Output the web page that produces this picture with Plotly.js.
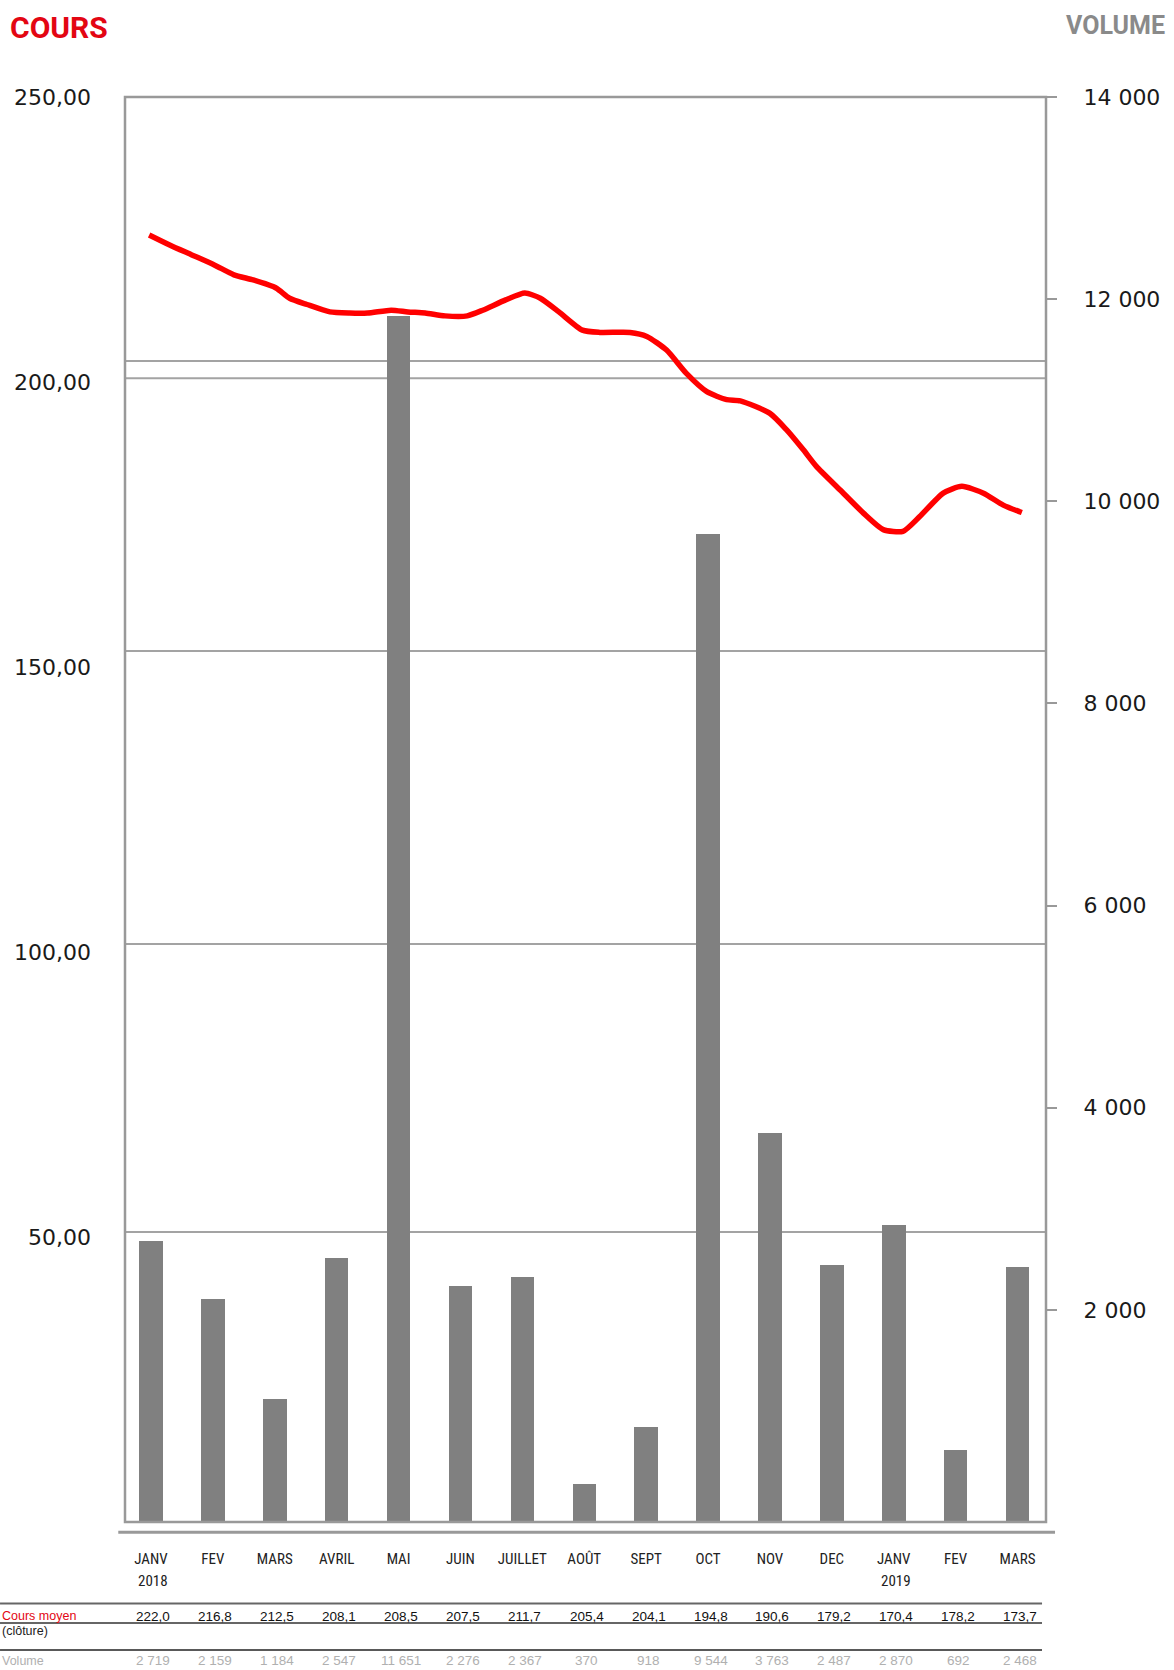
<!DOCTYPE html>
<html>
<head>
<meta charset="utf-8">
<script src="https://cdn.plot.ly/plotly-3.0.1.min.js"></script>
<style>
  html, body { margin: 0; padding: 0; background: #fff; }
  #chart { width: 1174px; height: 1670px; }
</style>
</head>
<body>
<div id="chart"></div>
<script>
// ---- Data ----
const months = ['JANV','FEV','MARS','AVRIL','MAI','JUIN','JUILLET','AOÛT','SEPT','OCT','NOV','DEC','JANV','FEV','MARS'];
const years = ['2018','2019'];
const yearPos = [0, 12];
const coursMoyen = [222.0,216.8,212.5,208.1,208.5,207.5,211.7,205.4,204.1,194.8,190.6,179.2,170.4,178.2,173.7];
const volumes = [2719,2159,1184,2547,11651,2276,2367,370,918,9544,3763,2487,2870,692,2468];
// daily closing price curve (x in month index)
const lineX = [-0.03,0.31,0.66,1.03,1.34,1.65,2.02,2.24,2.52,2.89,3.21,3.50,3.88,4.15,4.43,4.75,5.11,5.36,5.73,6.04,6.29,6.59,6.97,7.25,7.74,8.01,8.33,8.65,8.98,9.30,9.52,10.0,10.27,10.54,10.75,11.13,11.51,11.83,12.15,12.42,12.80,13.10,13.45,13.77,14.07];
const lineY = [225.8,224.0,222.3,220.5,218.8,217.9,216.5,214.7,213.6,212.3,212.1,212.1,212.6,212.3,212.1,211.6,211.6,212.6,214.4,215.6,214.7,212.3,209.1,208.7,208.7,208.0,205.6,201.5,198.3,196.9,196.7,194.5,191.6,188.1,185.2,181.1,177.0,174.1,173.8,176.4,180.5,181.7,180.5,178.4,177.1];
const leftTicks = [50,100,150,200,250];
const rightTicks = [2000,4000,6000,8000,10000,12000,14000];
const rowLabels = ['Cours moyen','(clôture)','Volume'];

// ---- helpers ----
const idx = months.map((m,i)=>i);
const fmtCours = v => v.toFixed(1).replace('.', ',');
const fmtVol = v => String(v).replace(/\B(?=(\d{3})+(?!\d))/g, ' ');

const GRID = '#a3a3a3';
const FRAME = '#999999';
const TICKFONT = {family: 'DejaVu Sans, Open Sans, sans-serif', size: 22, color: '#1a1a1a'};
const TABFONT = 'Liberation Sans, Arial, sans-serif';
const MONTHFONT = 'Roboto Condensed, Liberation Sans Narrow, Roboto, sans-serif';
const XR = [-0.42, 14.46];

const traces = [
  {type: 'bar', x: idx, y: volumes, xaxis: 'x', yaxis: 'y', width: 0.38,
   marker: {color: '#808080', line: {width: 0}}, hoverinfo: 'skip', showlegend: false},
  {type: 'scatter', mode: 'lines', x: lineX, y: lineY, xaxis: 'x', yaxis: 'y2',
   line: {color: '#ff0000', width: 5.5, shape: 'spline', smoothing: 0.6}, hoverinfo: 'skip', showlegend: false},
  {type: 'scatter', mode: 'markers', x: idx, y: volumes, xaxis: 'x', yaxis: 'y3',
   marker: {opacity: 0, size: 1}, hoverinfo: 'skip', showlegend: false}
];

const shapes = [];
// gridlines
[0.8147, 0.8026, 0.6112, 0.4056, 0.2035].forEach(p => shapes.push({
  type: 'line', xref: 'paper', yref: 'paper', x0: 0, x1: 1, y0: p, y1: p,
  line: {color: GRID, width: 2}, layer: 'below'}));
// frame
shapes.push({type: 'rect', xref: 'paper', yref: 'paper', x0: 0, x1: 1, y0: 0, y1: 1,
  line: {color: FRAME, width: 2.5}, layer: 'above'});
// thick line under plot
shapes.push({type: 'line', xref: 'paper', yref: 'paper', x0: -0.0073, x1: 1.0098, y0: -0.0072, y1: -0.0072,
  line: {color: FRAME, width: 3}});
// table lines
shapes.push({type: 'line', xref: 'paper', yref: 'paper', x0: -0.1357, x1: 0.9957, y0: -0.0572, y1: -0.0572,
  line: {color: '#666666', width: 2}});
shapes.push({type: 'line', xref: 'paper', yref: 'paper', x0: -0.1357, x1: 0.9957, y0: -0.0709, y1: -0.0709,
  line: {color: '#333333', width: 1.5}});
shapes.push({type: 'line', xref: 'paper', yref: 'paper', x0: -0.1357, x1: 0.9957, y0: -0.0898, y1: -0.0898,
  line: {color: '#222222', width: 1.5}});

const annotations = [];
annotations.push({xref: 'paper', yref: 'paper', x: 1.1315, y: 1.0505, xanchor: 'right', yanchor: 'middle',
  text: '<b>VOLUME</b>', showarrow: false, font: {family: 'Roboto, sans-serif', size: 25, color: '#8a8a8a'}});
years.forEach((yr, k) => annotations.push({xref: 'x', yref: 'paper', x: yearPos[k] + 0.03, y: -0.0411,
  xanchor: 'center', yanchor: 'middle', text: yr, showarrow: false,
  font: {family: MONTHFONT, size: 15, color: '#222'}}));
// table rows
annotations.push({xref: 'paper', yref: 'paper', x: -0.1357, y: -0.066, xanchor: 'left', yanchor: 'middle',
  text: rowLabels[0], showarrow: false, font: {family: TABFONT, size: 12.5, color: '#e30613'}});
annotations.push({xref: 'paper', yref: 'paper', x: -0.1357, y: -0.0765, xanchor: 'left', yanchor: 'middle',
  text: rowLabels[1], showarrow: false, font: {family: TABFONT, size: 12.5, color: '#222'}});
annotations.push({xref: 'paper', yref: 'paper', x: -0.1357, y: -0.0975, xanchor: 'left', yanchor: 'middle',
  text: rowLabels[2], showarrow: false, font: {family: TABFONT, size: 12.5, color: '#b0b0b0'}});
coursMoyen.forEach((v, i) => annotations.push({xref: 'x', yref: 'paper', x: i + 0.04, y: -0.066,
  xanchor: 'center', yanchor: 'middle', text: fmtCours(v), showarrow: false,
  font: {family: TABFONT, size: 13.5, color: '#111'}}));
volumes.forEach((v, i) => annotations.push({xref: 'x', yref: 'paper', x: i + 0.04, y: -0.0975,
  xanchor: 'center', yanchor: 'middle', text: fmtVol(v), showarrow: false,
  font: {family: TABFONT, size: 13.5, color: '#b0b0b0'}}));

const layout = {
  width: 1174, height: 1670,
  margin: {l: 125, r: 128, t: 97, b: 148, pad: 0},
  paper_bgcolor: '#ffffff', plot_bgcolor: '#ffffff',
  separators: ', ',
  showlegend: false,
  bargap: 0,
  title: {text: '<b>COURS</b>', xref: 'container', yref: 'container', x: 10 / 1174, xanchor: 'left',
    y: 1 - 27 / 1670, yanchor: 'middle', font: {family: 'Roboto, sans-serif', size: 30, color: '#e30613'}},
  xaxis: {range: XR, tickmode: 'array', tickvals: idx, ticktext: months, ticks: '',
    showgrid: false, zeroline: false, showline: false, ticklabelstandoff: 26,
    tickfont: {family: MONTHFONT, size: 15, color: '#222'},
    fixedrange: true},
  yaxis: {range: [0, 13770], visible: false, showgrid: false, zeroline: false, fixedrange: true},
  yaxis2: {overlaying: 'y', side: 'left', anchor: 'x', range: [0, 250], tickmode: 'array', tickvals: leftTicks,
    tickformat: '.2f', ticks: '', showgrid: false, zeroline: false, showline: false,
    ticklabelstandoff: 33, tickfont: TICKFONT, fixedrange: true},
  yaxis3: {overlaying: 'y', side: 'right', anchor: 'x', range: [-99, 14000], tickmode: 'array', tickvals: rightTicks,
    tickformat: ',d', ticks: 'outside', ticklen: 10, tickwidth: 2, tickcolor: FRAME,
    showgrid: false, zeroline: false, showline: false, ticklabelstandoff: 22, tickfont: TICKFONT, fixedrange: true},
  shapes: shapes,
  annotations: annotations
};

Plotly.newPlot('chart', traces, layout, {staticPlot: true, displayModeBar: false});
</script>
</body>
</html>
